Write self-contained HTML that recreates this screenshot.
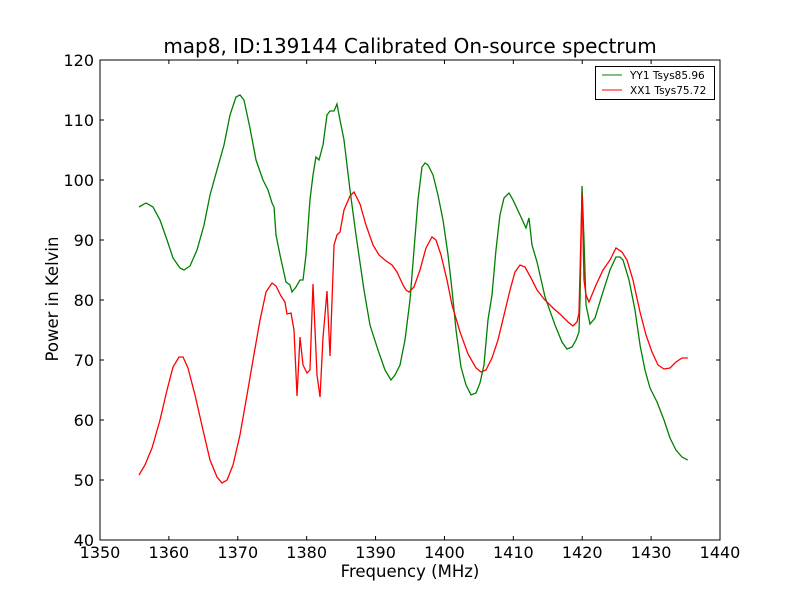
<!DOCTYPE html>
<html><head><meta charset="utf-8"><style>
body{margin:0;background:#fff;}
svg{display:block;font-family:"DejaVu Sans","Liberation Sans",sans-serif;}
</style></head><body>
<svg id="chart" width="800" height="600">
<rect width="800" height="600" fill="#fff"/>
<text x="410" y="53" font-size="20" text-anchor="middle">map8, ID:139144 Calibrated On-source spectrum</text>
<text x="410" y="577" font-size="16.5" text-anchor="middle">Frequency (MHz)</text>
<text x="58" y="299" font-size="16.5" text-anchor="middle" transform="rotate(-90 58 299)">Power in Kelvin</text>
<g id="ticks"></g>
<g id="series"></g>
<rect x="100" y="60" width="620" height="480" fill="none" stroke="#000" stroke-width="1"/>
<g>
<rect x="595.5" y="66.5" width="119" height="33" fill="#fff" stroke="#000" stroke-width="1"/>
<line x1="602" y1="75" x2="622" y2="75" stroke="green" stroke-width="1"/>
<text x="630" y="79" font-size="10.5">YY1 Tsys85.96</text>
<line x1="602" y1="90" x2="622" y2="90" stroke="red" stroke-width="1"/>
<text x="630" y="94" font-size="10.5">XX1 Tsys75.72</text>
</g>
</svg>
<script>
const xTicks=[1350,1360,1370,1380,1390,1400,1410,1420,1430,1440];
const yTicks=[40,50,60,70,80,90,100,110,120];
const yyFreq=[1355.66,1356.68,1357.69,1358.71,1359.73,1360.6,1361.61,1362.19,1363.06,1364.08,1365.1,1365.97,1366.98,1368,1368.87,1369.74,1370.32,1370.9,1371.77,1372.65,1373.66,1374.39,1374.97,1375.26,1375.55,1376.13,1377,1377.58,1377.87,1378.45,1379.03,1379.47,1379.9,1380.48,1380.92,1381.35,1381.79,1382.37,1382.95,1383.39,1383.97,1384.4,1384.84,1385.42,1386.29,1387.16,1388.32,1389.19,1390.35,1391.37,1392.24,1392.82,1393.55,1394.27,1395,1395.58,1396.16,1396.74,1397.18,1397.61,1398.34,1399.06,1399.79,1400.52,1401.1,1401.68,1402.4,1403.13,1403.86,1404.58,1405.16,1405.74,1406.32,1406.9,1407.48,1408.06,1408.65,1409.37,1409.95,1410.97,1411.84,1412.27,1412.71,1413.44,1414.6,1416.05,1417.06,1417.79,1418.52,1419.1,1419.53,1419.68,1419.97,1420.26,1420.55,1421.13,1421.86,1422.87,1424.03,1424.9,1425.48,1425.92,1426.79,1427.66,1428.39,1429.11,1429.84,1430.86,1431.87,1432.74,1433.61,1434.48,1435.32];
const yyPower=[95.5,96.17,95.5,93.33,90,87,85.33,85,85.67,88.33,92.5,97.5,101.67,105.83,110.83,113.83,114.17,113.33,108.67,103.33,100,98.33,96.17,95.5,90.83,87.5,83,82.5,81.33,82.17,83.33,83.33,87.5,96.67,100.83,103.83,103.33,105.83,110.83,111.5,111.5,112.67,110,106.67,98.33,90.83,81.67,75.83,71.67,68.33,66.67,67.5,69.17,73.33,80,88.33,96.67,102.17,102.83,102.5,100.83,97.5,93.33,87.5,81.67,75,68.83,65.83,64.17,64.5,66.17,69.17,76.67,80.83,88.33,94.17,97,97.83,96.67,94.17,92,93.67,89.17,86.33,80.5,75.83,73,71.83,72.17,73.33,74.67,80,99,90,79.17,76,77,80.83,85,87.17,87.17,86.67,83.33,78.33,72.5,68.33,65.33,63,60,57,55,53.83,53.33];
const xxFreq=[1355.66,1356.53,1357.55,1358.71,1359.73,1360.6,1361.47,1362.05,1362.77,1363.79,1364.95,1365.97,1366.98,1367.71,1368.44,1369.31,1370.32,1371.34,1372.21,1373.23,1374.1,1374.97,1375.55,1376.27,1376.85,1377.14,1377.73,1378.16,1378.6,1379.03,1379.47,1380.05,1380.48,1380.92,1381.5,1381.94,1382.37,1382.95,1383.39,1383.97,1384.4,1384.84,1385.42,1386.29,1386.87,1387.74,1388.61,1389.63,1390.5,1391.52,1392.39,1393.11,1393.98,1394.42,1394.85,1395.58,1396.45,1397.32,1398.19,1398.77,1399.5,1400.37,1401.1,1402.26,1403.42,1404.58,1405.31,1406.03,1406.9,1407.77,1408.65,1409.52,1410.24,1410.97,1411.69,1412.56,1413.44,1414.45,1415.76,1416.92,1417.94,1418.66,1419.24,1419.53,1419.97,1420.26,1420.55,1420.98,1422,1423.02,1424.03,1424.9,1425.77,1426.5,1427.37,1428.39,1429.26,1430.13,1431,1431.87,1432.74,1433.61,1434.48,1435.32];
const xxPower=[50.83,52.5,55.33,60,65,68.83,70.5,70.5,68.67,64.17,58.33,53.33,50.5,49.5,50,52.5,57.5,64.17,70,76.67,81.33,82.83,82.33,80.67,79.67,77.67,77.83,75,64,73.83,69.17,67.83,68.33,82.67,67.5,63.83,73.67,81.5,70.67,89.17,90.83,91.33,95,97.33,98,96,92.5,89.17,87.5,86.5,85.83,84.67,82.5,81.67,81.33,82.17,85,88.67,90.5,90,87.5,83.33,79.17,74.67,71,68.67,68,68.33,70.33,73.33,77.5,81.67,84.67,85.83,85.5,83.67,81.67,80.17,78.67,77.5,76.33,75.67,76.33,77.83,97.83,83.33,80.83,79.67,82.5,85,86.67,88.67,88,86.67,83.33,78,74.17,71.33,69.17,68.5,68.67,69.67,70.33,70.33];

const NS='http://www.w3.org/2000/svg';
function xs(f){return 100+(f-1350)/90*620;}
function ys(v){return 540-(v-40)/80*480;}
const tg=document.getElementById('ticks');
xTicks.forEach(t=>{
  const x=xs(t);
  const l=document.createElementNS(NS,'path');
  l.setAttribute('d',`M${x},540v-4M${x},60v4`);
  l.setAttribute('stroke','#000');
  
  
  tg.appendChild(l);
  const tx=document.createElementNS(NS,'text');
  tx.setAttribute('x',x);tx.setAttribute('y',558);
  tx.setAttribute('font-size','16');tx.setAttribute('text-anchor','middle');
  tx.textContent=t;
  
  
  tg.appendChild(tx);
});
yTicks.forEach(t=>{
  const y=ys(t);
  const l=document.createElementNS(NS,'path');
  l.setAttribute('d',`M100,${y}h4M720,${y}h-4`);
  l.setAttribute('stroke','#000');
  
  
  tg.appendChild(l);
  const tx=document.createElementNS(NS,'text');
  tx.setAttribute('x',94);tx.setAttribute('y',y+6);
  tx.setAttribute('font-size','16');tx.setAttribute('text-anchor','end');
  tx.textContent=t;
  
  
  tg.appendChild(tx);
});
const sg=document.getElementById('series');
function line(fr,pw,color,name){
  const p=document.createElementNS(NS,'polyline');
  p.setAttribute('points',fr.map((f,i)=>xs(f).toFixed(2)+','+ys(pw[i]).toFixed(2)).join(' '));
  p.setAttribute('fill','none');p.setAttribute('stroke',color);p.setAttribute('stroke-width','1.3');
  
  
  sg.appendChild(p);
}
line(yyFreq,yyPower,'green','yy1-line');
line(xxFreq,xxPower,'red','xx1-line');
</script>
</body></html>
